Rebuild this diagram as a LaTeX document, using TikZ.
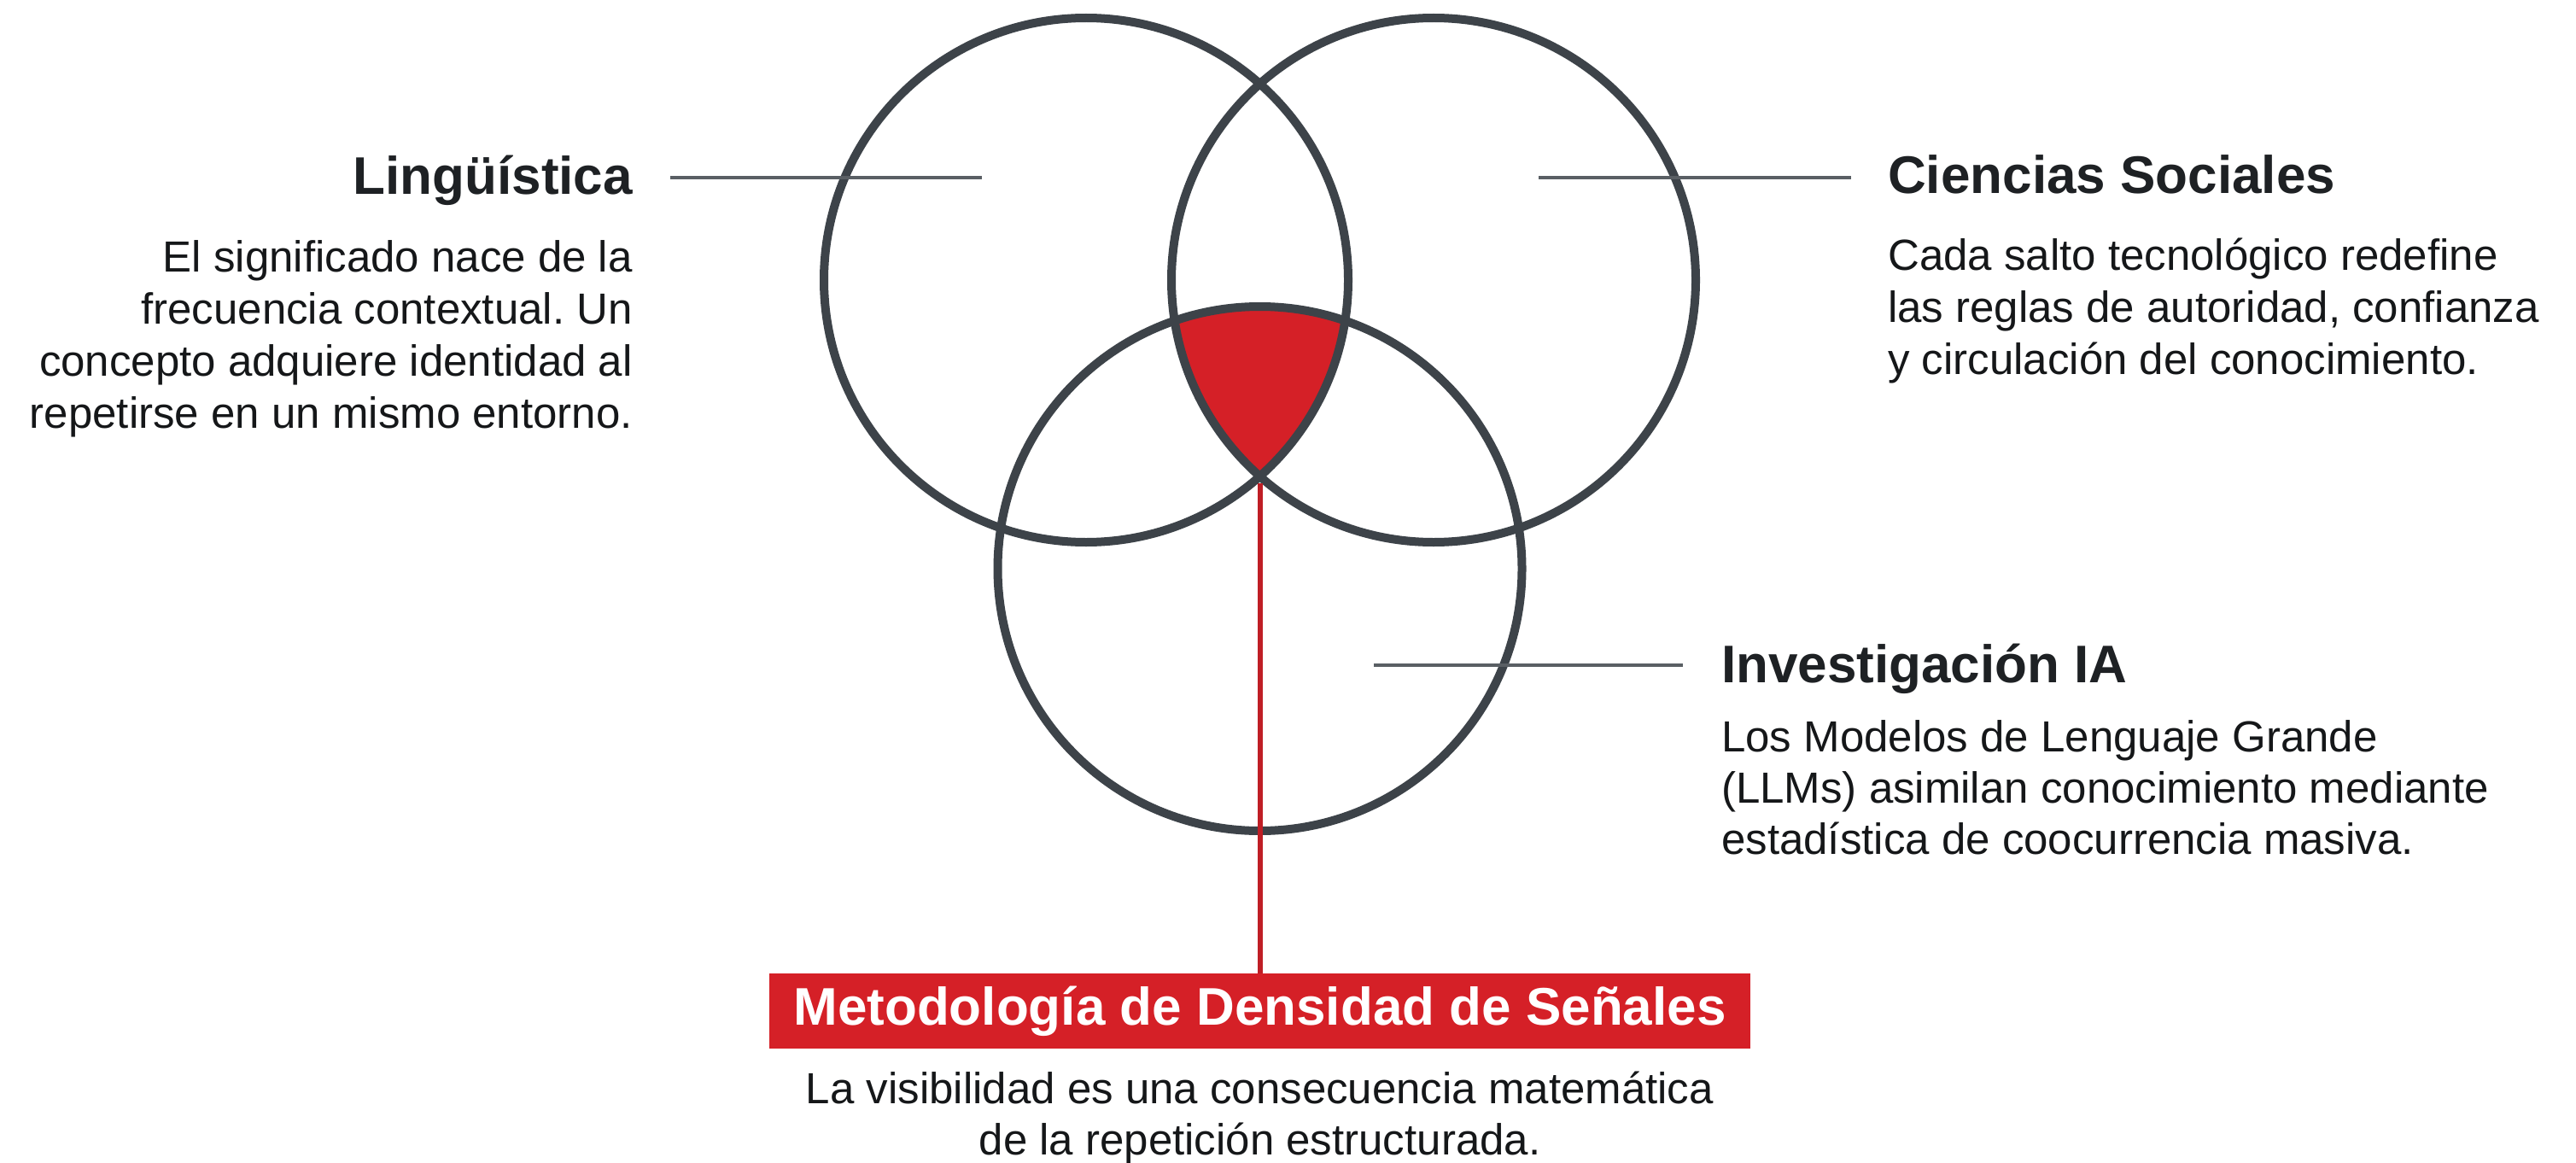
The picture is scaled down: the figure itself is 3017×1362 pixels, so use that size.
\documentclass[tikz,border=0pt]{standalone}
\usepackage{fontspec}
\setmainfont{Liberation Sans}
\frenchspacing
\definecolor{ring}{HTML}{3D4349}
\definecolor{leadgray}{HTML}{5A5F64}
\definecolor{accent}{HTML}{D52027}
\definecolor{accentline}{HTML}{BF1E25}
\definecolor{ink}{HTML}{151719}
\definecolor{headink}{HTML}{1E2124}
\begin{document}
\begin{tikzpicture}[x=1pt,y=-1pt,
  ringnode/.style={circle,draw=ring,line width=10pt,minimum size=614pt,inner sep=0pt,outer sep=0pt},
  leader/.style={draw=leadgray,line width=4pt},
  redlink/.style={draw=accentline,line width=6pt},
  head/.style={font=\fontsize{62}{74}\selectfont\bfseries,text=headink,inner sep=0pt},
  body/.style={font=\fontsize{51}{61}\selectfont,text=ink,inner sep=0pt},
  titlebox/.style={fill=accent,text=white,font=\fontsize{62}{74}\selectfont\bfseries,
    minimum width=1149pt,minimum height=88pt,inner sep=0pt}]
\useasboundingbox (0,0) rectangle (3017,1362);
\fill[white] (0,0) rectangle (3017,1362);
% core intersection
\begin{scope}
  \clip (1272,328) circle[radius=307pt];
  \clip (1679,328) circle[radius=307pt];
  \fill[accent] (1475.5,666) circle[radius=307pt];
\end{scope}
% circles
\node[ringnode] (ling) at (1272,328) {};
\node[ringnode] (soc) at (1679,328) {};
\node[ringnode] (ia) at (1475.5,666) {};
% leaders
\coordinate (lingA) at (785,208);
\coordinate (lingB) at (1150,208);
\coordinate (socA) at (1802,208);
\coordinate (socB) at (2168,208);
\coordinate (iaA) at (1609,779);
\coordinate (iaB) at (1971,779);
\draw[leader] (lingA) -- (lingB);
\draw[leader] (socA) -- (socB);
\draw[leader] (iaA) -- (iaB);
% title box and red link
\node[titlebox] (box) at (1475.5,1184) {Metodología de Densidad de Señales};
\coordinate (core) at (1475.5,566);
\draw[redlink] (core) -- (box.north);
% Lingüística
\node[head,anchor=base east] (lingT) at (741,227) {Lingüística};
\node[body,anchor=base east] (lingL1) at (741,318) {El significado nace de la};
\node[body,anchor=base east] (lingL2) at (741,379) {frecuencia contextual. Un};
\node[body,anchor=base east] (lingL3) at (741,440) {concepto adquiere identidad al};
\node[body,anchor=base east] (lingL4) at (741,501) {repetirse en un mismo entorno.};
% Ciencias Sociales
\node[head,anchor=base west] (socT) at (2211,226) {Ciencias Sociales};
\node[body,anchor=base west] (socL1) at (2211,316) {Cada salto tecnológico redefine};
\node[body,anchor=base west] (socL2) at (2211,377) {las reglas de autoridad, confianza};
\node[body,anchor=base west] (socL3) at (2211,438) {y circulación del conocimiento.};
% Investigación IA
\node[head,anchor=base west] (iaT) at (2016,799) {Investigación IA};
\node[body,anchor=base west] (iaL1) at (2016,880) {Los Modelos de Lenguaje Grande};
\node[body,anchor=base west] (iaL2) at (2016,940) {(LLMs) asimilan conocimiento mediante};
\node[body,anchor=base west] (iaL3) at (2016,1000) {estadística de coocurrencia masiva.};
% bottom text
\node[body,anchor=base] (botL1) at (1475.5,1292) {La visibilidad es una consecuencia matemática};
\node[body,anchor=base] (botL2) at (1475.5,1352) {de la repetición estructurada.};
\end{tikzpicture}
\end{document}
